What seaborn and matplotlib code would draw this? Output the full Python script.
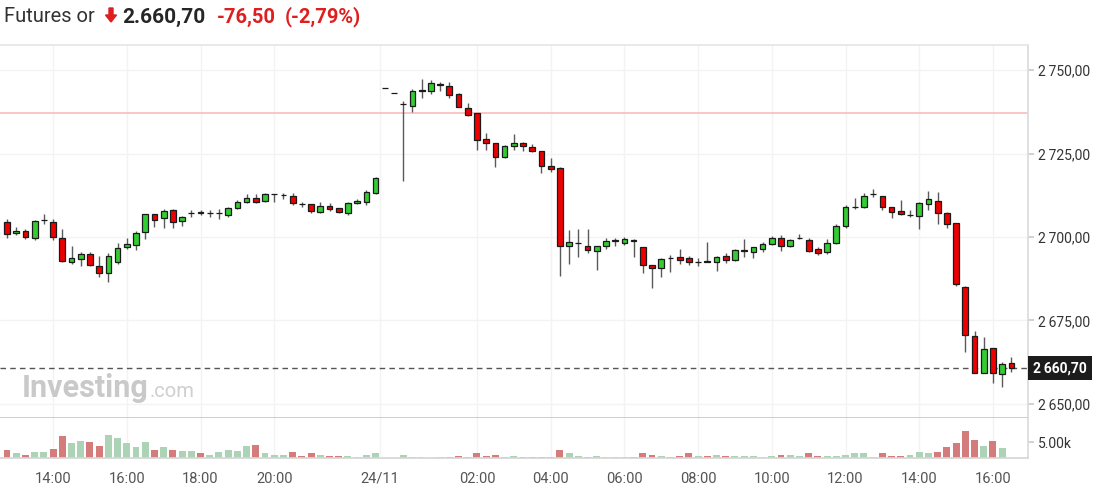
import numpy as np
import pandas as pd
import seaborn as sns
import matplotlib.pyplot as plt
from matplotlib.patches import FancyArrow
from matplotlib.transforms import IdentityTransform
from matplotlib.ticker import FuncFormatter

# 15-min candles
opens = [2704.4, 2701.1, 2701.8, 2699.8, 2705.0, 2704.4, 2699.6, 2692.4, 2693.5, 2694.8,
         2691.3, 2689.1, 2692.4, 2696.9, 2697.6, 2701.4, 2706.8, 2705.6, 2708.1, 2704.8,
         2707.1, 2707.4, 2707.2, 2707.1, 2706.6, 2708.6, 2710.4, 2711.6, 2710.8, 2712.8,
         2712.5, 2712.3, 2709.9, 2709.8, 2707.4, 2709.4, 2708.6, 2707.1, 2710.1, 2710.4,
         2713.1, 2744.5, 2743.0, 2739.8, 2739.2, 2743.8, 2743.7, 2745.6, 2745.3, 2742.7,
         2738.5, 2737.0, 2729.3, 2728.2, 2723.9, 2727.2, 2728.1, 2726.9, 2725.8, 2721.4,
         2720.6, 2697.3, 2698.1, 2697.3, 2695.9, 2697.3, 2698.9, 2698.1, 2699.0, 2696.9,
         2691.6, 2690.6, 2693.7, 2693.9, 2693.6, 2692.4, 2692.7, 2692.6, 2694.3, 2693.1,
         2695.9, 2695.4, 2696.5, 2697.8, 2699.8, 2697.4, 2699.6, 2699.1, 2696.5, 2695.4,
         2698.1, 2703.2, 2708.9, 2708.9, 2712.8, 2712.4, 2708.9, 2707.9, 2706.6, 2706.4,
         2709.8, 2710.9, 2707.3, 2704.1, 2685.1, 2670.4, 2659.2, 2666.7, 2658.9, 2662.2]
highs = [2705.3, 2702.9, 2702.3, 2705.1, 2706.8, 2705.5, 2702.3, 2697.3, 2695.6, 2695.6,
         2694.3, 2695.1, 2698.1, 2699.8, 2701.7, 2706.8, 2706.8, 2708.4, 2708.4, 2706.2,
         2708.1, 2708.1, 2708.1, 2708.3, 2709.1, 2711.0, 2712.8, 2713.0, 2713.2, 2712.8,
         2713.3, 2713.1, 2710.6, 2709.8, 2710.6, 2710.1, 2708.6, 2710.6, 2711.4, 2714.0,
         2718.1, 2744.5, 2743.0, 2740.6, 2744.3, 2747.2, 2746.9, 2746.5, 2746.3, 2743.0,
         2740.0, 2737.0, 2731.2, 2728.2, 2727.6, 2730.8, 2728.6, 2727.9, 2725.8, 2723.6,
         2721.0, 2702.1, 2702.4, 2702.4, 2697.3, 2699.8, 2699.8, 2700.0, 2699.3, 2696.9,
         2691.6, 2693.6, 2694.6, 2696.3, 2694.3, 2693.6, 2698.4, 2694.3, 2695.1, 2696.3,
         2699.3, 2697.1, 2698.4, 2700.2, 2700.5, 2699.4, 2700.9, 2699.6, 2696.9, 2699.3,
         2703.9, 2709.6, 2711.6, 2713.3, 2714.3, 2712.4, 2708.9, 2711.2, 2708.1, 2710.6,
         2713.9, 2713.6, 2707.5, 2704.1, 2685.3, 2672.0, 2670.1, 2666.7, 2662.7, 2664.0]
lows = [2699.6, 2700.6, 2699.5, 2699.0, 2703.8, 2699.0, 2692.6, 2691.8, 2691.3, 2691.3,
        2687.9, 2686.4, 2691.9, 2696.4, 2696.1, 2699.4, 2703.1, 2702.8, 2702.8, 2703.3,
        2705.9, 2706.6, 2705.9, 2705.4, 2706.1, 2708.3, 2710.1, 2710.2, 2710.5, 2710.6,
        2711.3, 2709.6, 2709.1, 2707.1, 2707.1, 2707.8, 2707.1, 2706.6, 2709.8, 2709.6,
        2712.8, 2744.5, 2743.0, 2716.8, 2737.5, 2741.5, 2742.8, 2743.8, 2741.6, 2738.8,
        2736.2, 2726.0, 2726.0, 2721.0, 2723.6, 2726.0, 2725.7, 2725.4, 2719.1, 2719.5,
        2688.3, 2691.9, 2694.1, 2695.1, 2690.1, 2696.4, 2697.3, 2697.5, 2694.1, 2689.3,
        2684.6, 2687.9, 2689.6, 2691.9, 2691.6, 2691.3, 2692.6, 2689.9, 2692.1, 2692.8,
        2694.1, 2693.8, 2695.6, 2697.5, 2695.8, 2697.1, 2699.3, 2695.6, 2694.6, 2695.0,
        2697.9, 2702.8, 2708.4, 2708.6, 2711.9, 2708.1, 2705.8, 2706.5, 2705.9, 2702.4,
        2708.1, 2703.9, 2702.8, 2685.3, 2665.7, 2659.2, 2659.2, 2656.4, 2655.2, 2659.7]
closes = [2700.8, 2701.8, 2699.9, 2704.8, 2705.2, 2699.9, 2692.8, 2693.6, 2694.8, 2691.6,
          2689.1, 2694.3, 2696.6, 2697.8, 2701.1, 2706.8, 2705.1, 2707.9, 2704.4, 2705.9,
          2707.2, 2707.3, 2707.3, 2707.2, 2708.6, 2710.6, 2711.6, 2710.6, 2712.8, 2712.8,
          2712.6, 2710.1, 2709.8, 2707.8, 2709.4, 2708.4, 2707.4, 2710.1, 2710.9, 2713.4,
          2717.6, 2744.5, 2743.0, 2739.9, 2743.8, 2743.9, 2746.0, 2745.7, 2742.5, 2738.8,
          2736.5, 2729.0, 2728.1, 2723.9, 2727.3, 2728.1, 2727.2, 2725.7, 2721.3, 2720.4,
          2697.3, 2698.6, 2698.2, 2696.1, 2697.3, 2698.9, 2699.0, 2699.3, 2698.9, 2691.6,
          2690.6, 2693.3, 2693.6, 2693.1, 2692.6, 2692.5, 2692.6, 2694.1, 2693.1, 2696.1,
          2696.0, 2696.9, 2697.8, 2699.8, 2697.3, 2699.1, 2699.6, 2695.9, 2695.1, 2698.1,
          2703.4, 2709.1, 2709.0, 2712.3, 2712.9, 2708.9, 2707.4, 2706.8, 2706.6, 2710.1,
          2711.3, 2707.1, 2703.8, 2685.9, 2670.7, 2659.2, 2666.4, 2659.2, 2661.9, 2660.7]
volumes = [2650, 1480, 1060, 1900, 1900, 2970, 7100, 4660, 5510, 5090,
           3920, 7420, 6250, 4660, 3500, 5090, 2650, 3500, 2650, 2330,
           2330, 1480, 1060, 1900, 2650, 2330, 3920, 4240, 1480, 1060,
           1060, 1900, 740, 1480, 1060, 740, 740, 740, 320, 1060,
           1480, 0, 0, 1060, 320, 320, 100, 320, 320, 740,
           320, 1480, 740, 1060, 320, 740, 320, 320, 320, 320,
           2650, 1480, 740, 320, 740, 320, 320, 320, 320, 1480,
           1060, 740, 320, 740, 1480, 740, 740, 1060, 740, 740,
           740, 740, 320, 740, 1060, 1060, 740, 1480, 740, 740,
           740, 1060, 1480, 1480, 320, 1480, 740, 740, 1060, 1900,
           1480, 1900, 3500, 4660, 8590, 5830, 3920, 5510, 3070, 0]

tick_pos = [5, 13, 21, 29, 40.5, 51, 59, 67, 75, 83, 91, 99, 107]
tick_labels = ['14:00', '16:00', '18:00', '20:00', '24/11', '02:00', '04:00',
               '06:00', '08:00', '10:00', '12:00', '14:00', '16:00']
price_ticks = [2650, 2675, 2700, 2725, 2750]
last_price = 2660.70
prev_close = 2737.20

df = pd.DataFrame(dict(open=opens, high=highs, low=lows, close=closes, volume=volumes))
df['idx'] = np.arange(len(df))
df['dir'] = np.where(df['close'] >= df['open'], 'up', 'down')

sns.set_theme(style='white')
plt.rcParams['font.family'] = ['Roboto', 'DejaVu Sans']

fig = plt.figure(figsize=(11.07, 4.87), dpi=100)
ax = fig.add_axes([0, 0.1417, 0.9286, 0.7659])
axv = fig.add_axes([0, 0.0595, 0.9286, 0.0822])

# candles
ax.vlines(df['idx'], df['low'], df['high'], color='#5a5a5a', lw=1, zorder=2)
body_lo = df[['open', 'close']].min(axis=1)
body_h = (df['close'] - df['open']).abs()
cols = df['dir'].map({'up': '#33cc33', 'down': '#ee0000'})
ax.bar(df['idx'], body_h, bottom=body_lo, width=0.62, color=cols,
       edgecolor='#1a1a1a', linewidth=0.9, zorder=3)

ax.axhline(prev_close, color='#f7bcbc', lw=1.2, zorder=1)
ax.axhline(last_price, color='#555555', lw=1, ls=(0, (4, 3)), zorder=1)

ax.set_xlim(-0.76, 110.8)
ax.set_ylim(2645.8, 2757.5)
ax.set_xticks(tick_pos)
ax.set_yticks(price_ticks)
ax.grid(True, color='#f3f3f3', lw=1)
ax.tick_params(axis='x', length=0, labelbottom=False)
ax.yaxis.tick_right()
ax.yaxis.set_major_formatter(FuncFormatter(
    lambda v, p: f"{int(v) // 1000}\u2009{int(v) % 1000:03d},00"))
ax.tick_params(axis='y', length=4, color='#cccccc', labelcolor='#333333',
               labelsize=10, pad=3)
ax.spines['left'].set_visible(False)
ax.spines['top'].set_color('#e6e6e6')
ax.spines['right'].set_color('#dcdcdc')
ax.spines['bottom'].set_color('#c8c8c8')

ax.text(1.005, last_price, '2\u2009660,70', transform=ax.get_yaxis_transform(),
        ha='left', va='center', color='white', fontsize=10, fontweight='bold',
        bbox=dict(boxstyle='square,pad=0.35', fc='#1c1c1c', ec='none'),
        clip_on=False, zorder=10)

# volume
sns.barplot(data=df, x='idx', y='volume', hue='dir',
            palette={'up': '#a6d9b3', 'down': '#e36c6c'}, native_scale=True,
            width=0.75, linewidth=0, legend=False, dodge=False, errorbar=None, ax=axv)
axv.set_xlim(-0.76, 110.8)
axv.set_ylim(0, 12800)
axv.set_xticks(tick_pos)
axv.set_xticklabels(tick_labels)
axv.set_yticks([5000])
axv.set_yticklabels(['5.00k'])
axv.yaxis.tick_right()
axv.set_xlabel('')
axv.set_ylabel('')
axv.grid(True, axis='x', color='#f3f3f3', lw=1)
axv.tick_params(axis='x', length=4, color='#cccccc', labelcolor='#555555',
                labelsize=10.5, pad=6)
axv.tick_params(axis='y', length=4, color='#cccccc', labelcolor='#333333',
                labelsize=10, pad=3)
axv.spines['left'].set_visible(False)
axv.spines['top'].set_visible(False)
axv.spines['right'].set_color('#dcdcdc')
axv.spines['bottom'].set_color('#d6d6d6')

# header
hy = 1 - 17 / 487
fig.text(4 / 1107, hy, 'Futures or', fontsize=14.5, color='#333333', va='center')
fig.add_artist(FancyArrow(111, 487 - 8, 0, -14, width=4, head_width=11, head_length=7,
                          length_includes_head=True, color='#dd1f1f',
                          transform=IdentityTransform()))
fig.text(122 / 1107, hy, '2.660,70', fontsize=15, fontweight='bold',
         color='#262626', va='center')
fig.text(217 / 1107, hy, '-76,50', fontsize=14.5, fontweight='bold',
         color='#dd1f1f', va='center')
fig.text(285 / 1107, hy, '(-2,79%)', fontsize=14.5, fontweight='bold',
         color='#dd1f1f', va='center')

# watermark
fig.text(22 / 1107, 1 - 397 / 487, 'Investing', fontsize=22, fontweight='bold',
         color='#c9c9c9', va='baseline')
fig.text(150 / 1107, 1 - 397 / 487, '.com', fontsize=14.5, color='#cfcfcf', va='baseline')

plt.savefig('out.png', dpi=100)
